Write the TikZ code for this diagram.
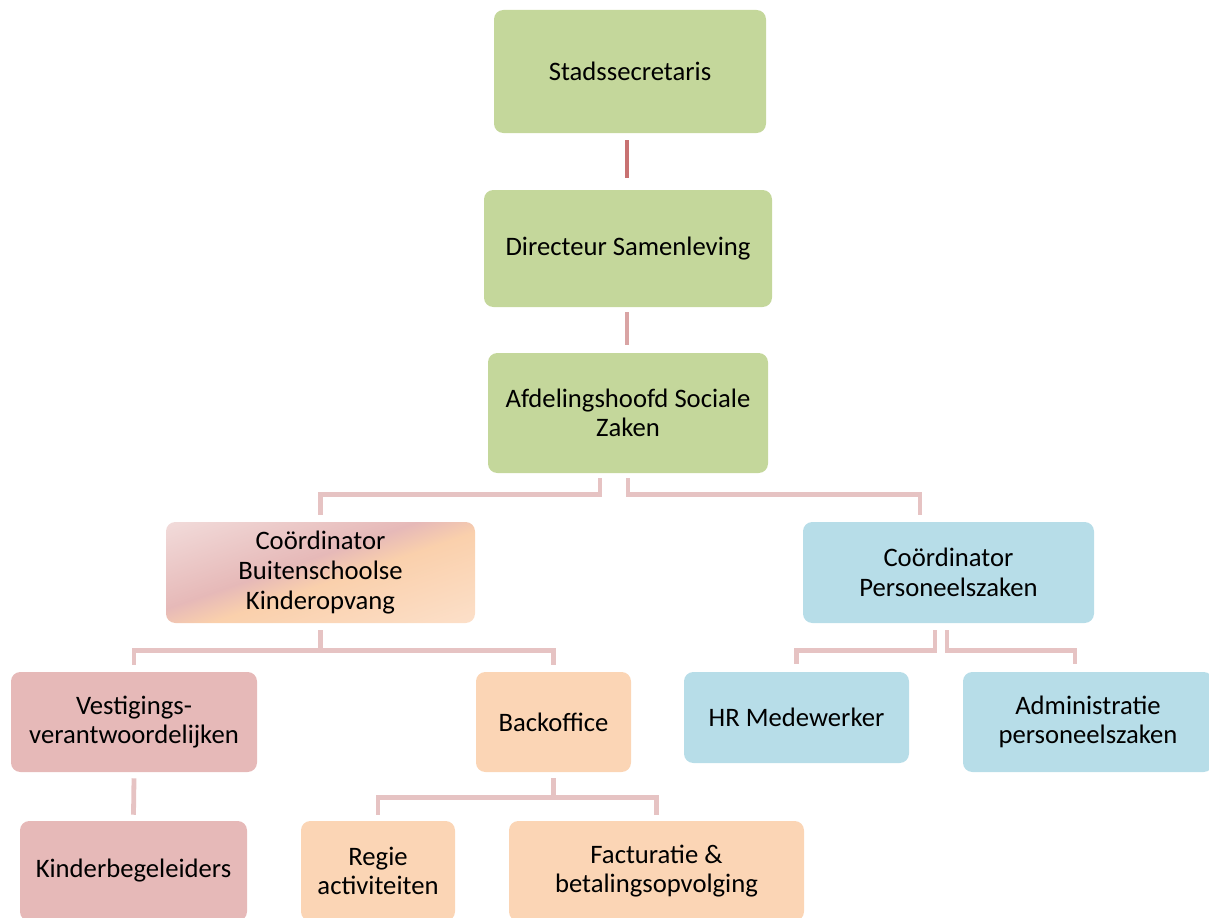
\documentclass[tikz,border=0pt]{standalone}
\usepackage{fontspec}
\setmainfont{Carlito}
\usetikzlibrary{calc}
\definecolor{gbox}{HTML}{C4D79B}
\definecolor{pbox}{HTML}{E6B9B8}
\definecolor{obox}{HTML}{FBD5B5}
\definecolor{bbox}{HTML}{B7DDE8}
\definecolor{lnk}{HTML}{E6C3C3}
\definecolor{lnkdark}{HTML}{C87272}
\definecolor{lnkmid}{HTML}{D9A4A4}
\definecolor{gA}{HTML}{F2DCDB}
\definecolor{gB}{HTML}{E6B9B8}
\definecolor{gC}{HTML}{FAD0AC}
\definecolor{gD}{HTML}{FCE0CA}
\pgfdeclarehorizontalshading{bkoshade}{100bp}{color(0bp)=(gA); color(25bp)=(gA); color(46bp)=(gB); color(53bp)=(gC); color(75bp)=(gD); color(100bp)=(gD)}
\begin{document}
\begin{tikzpicture}[x=0.75pt,y=-0.75pt,
  box/.style={rounded corners=7pt, inner sep=2pt, align=center,
    font=\fontsize{20}{22.2}\selectfont, text=black},
  conn/.style={line width=3.6pt, draw=lnk}]
\useasboundingbox (0,0) rectangle (1209,917);
\node[box, fill=gbox, minimum width=204pt, minimum height=92.25pt] (stad) at (630,71.5) {Stadssecretaris};
\node[box, fill=gbox, minimum width=216pt, minimum height=87.75pt] (dir) at (628,248.5) {Directeur Samenleving};
\node[box, fill=gbox, minimum width=210pt, minimum height=90pt] (afd) at (628,413) {Afdelingshoofd Sociale\\Zaken};
% gradient box background
\coordinate (bkoc) at (320.5,572.5);
\begin{scope}
  \clip[rounded corners=7pt] ($(bkoc)+(-154.5,-50.5)$) rectangle ($(bkoc)+(154.5,50.5)$);
  \begin{scope}[transform canvas={shift={(bkoc)}, rotate=-71}]
    \shade[shading=bkoshade] (-100,-200) rectangle (100,200);
  \end{scope}
\end{scope}
\node[box, minimum width=231.75pt, minimum height=75.75pt] (bko) at (bkoc) {Coördinator\\Buitenschoolse\\Kinderopvang};
\node[box, fill=bbox, minimum width=218.25pt, minimum height=75.75pt] (cp) at (948.5,572.5) {Coördinator\\Personeelszaken};
\node[box, fill=pbox, minimum width=184.5pt, minimum height=75pt] (vest) at (134,722) {Vestigings-\\verantwoordelijken};
\node[box, fill=obox, minimum width=116.25pt, minimum height=75pt] (back) at (553.5,722) {Backoffice};
\node[box, fill=bbox, minimum width=168.75pt, minimum height=68.25pt] (hr) at (796.5,717.5) {HR Medewerker};
\node[box, fill=bbox, minimum width=187.5pt, minimum height=75pt] (adm) at (1088,722) {Administratie\\personeelszaken};
\node[box, fill=pbox, minimum width=170.25pt, minimum height=75pt] (kind) at (133.5,871) {Kinderbegeleiders};
\node[box, fill=obox, minimum width=115.5pt, minimum height=75pt] (regie) at (378,871) {Regie\\activiteiten};
\node[box, fill=obox, minimum width=221.25pt, minimum height=75pt] (fact) at (656.5,871) {Facturatie \&\\betalingsopvolging};
% connectors
\draw[conn, draw=lnkdark] ($(stad.south)+(-3,7)$) -- ($(dir.north)+(-1,-12)$);
\draw[conn, draw=lnkmid] ($(dir.south)+(-1,5)$) -- ($(afd.north)+(-1,-8)$);
\draw[conn] ($(afd.south)+(-28,5)$) -- ++(0,16) -| ($(bko.north)+(0,-7)$);
\draw[conn] ($(afd.south)+(0,5)$) -- ++(0,16) -| ($(cp.north)+(-28.5,-7)$);
\draw[conn] ($(bko.south)+(0,7)$) -- ++(0,20) -| ($(vest.north)+(0,-7)$);
\draw[conn] ($(bko.south)+(0,7)$) -- ++(0,20) -| ($(back.north)+(0,-7)$);
\draw[conn] ($(cp.south)+(-13.5,7)$) -- ++(0,20) -| ($(hr.north)+(0,-8)$);
\draw[conn] ($(cp.south)+(-1.5,7)$) -- ++(0,20) -| ($(adm.north)+(-13,-8)$);
\draw[conn] ($(vest.south)+(0,6)$) -- ($(kind.north)+(0,-6)$);
\draw[conn] ($(back.south)+(0,6)$) -- ++(0,19) -| ($(regie.north)+(0,-6)$);
\draw[conn] ($(back.south)+(0,6)$) -- ++(0,19) -| ($(fact.north)+(0,-6)$);
\end{tikzpicture}
\end{document}
